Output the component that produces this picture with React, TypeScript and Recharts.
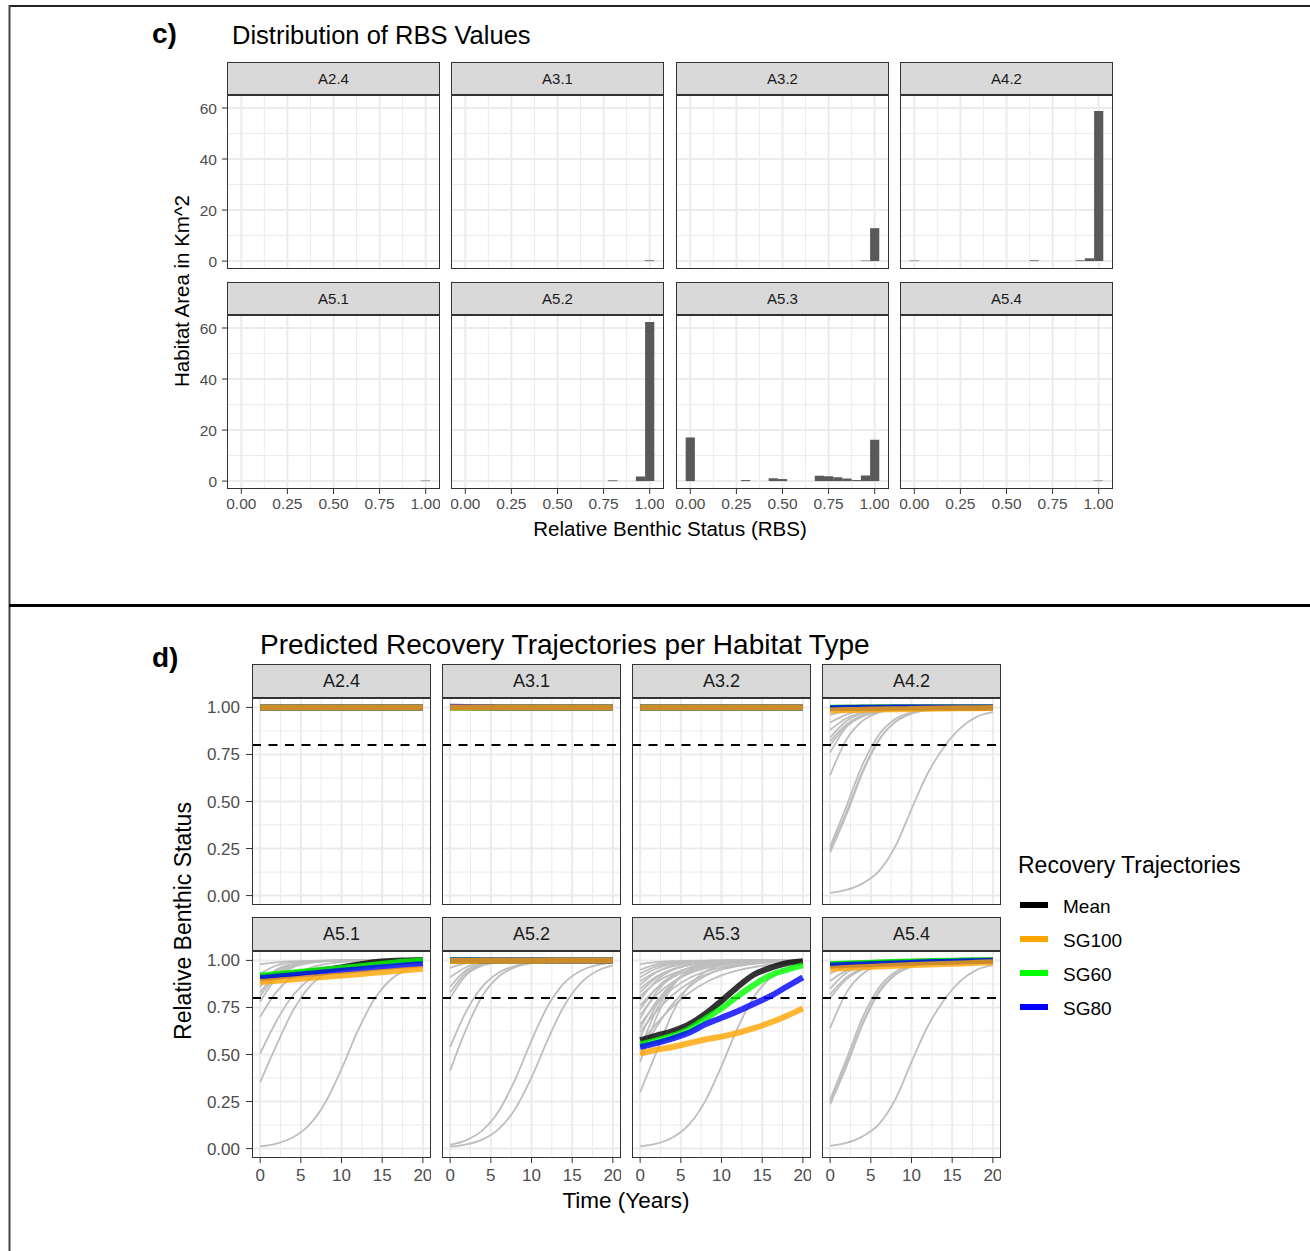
import React from 'react';
import { ComposedChart, LineChart, Line, Bar, XAxis, YAxis, CartesianGrid, ReferenceLine } from 'recharts';

const FONT = '"Liberation Sans", Arial, Helvetica, sans-serif';

// ---------------- c) Distribution of RBS values ----------------
const FACETS = ['A2.4', 'A3.1', 'A3.2', 'A4.2', 'A5.1', 'A5.2', 'A5.3', 'A5.4'];
const RBS_TICKS = [0, 0.25, 0.5, 0.75, 1];
const RBS_MINOR = [0.125, 0.375, 0.625, 0.875];
const AREA_TICKS = [0, 20, 40, 60];
const AREA_MINOR = [10, 30, 50];

const A24_BIN: number[] = [];
const A24_AREA: number[] = [];
const A31_BIN = [1.0];
const A31_AREA = [0.3];
const A32_BIN = [0.95, 1.0];
const A32_AREA = [0.2, 12.9];
const A42_BIN = [0.0, 0.65, 0.9, 0.95, 1.0];
const A42_AREA = [0.2, 0.3, 0.3, 1.1, 58.8];
const A51_BIN = [1.0];
const A51_AREA = [0.2];
const A52_BIN = [0.8, 0.95, 1.0];
const A52_AREA = [0.3, 1.8, 62.4];
const A53_BIN = [0.0, 0.3, 0.45, 0.5, 0.7, 0.75, 0.8, 0.85, 0.9, 0.95, 1.0];
const A53_AREA = [17.1, 0.4, 1.1, 0.8, 2.1, 1.9, 1.5, 1.0, 0.4, 2.2, 16.2];
const A54_BIN = [1.0];
const A54_AREA = [0.2];

const HIST_BINS = [A24_BIN, A31_BIN, A32_BIN, A42_BIN, A51_BIN, A52_BIN, A53_BIN, A54_BIN];
const HIST_AREAS = [A24_AREA, A31_AREA, A32_AREA, A42_AREA, A51_AREA, A52_AREA, A53_AREA, A54_AREA];

// ---------------- d) Predicted recovery trajectories ----------------
const YEARS = [0, 2, 4, 6, 8, 10, 12, 14, 16, 18, 20];
const YEAR_TICKS = [0, 5, 10, 15, 20];
const YEAR_MINOR = [2.5, 7.5, 12.5, 17.5];
const RBS_Y_TICKS = [0, 0.25, 0.5, 0.75, 1];
const RBS_Y_MINOR = [0.125, 0.375, 0.625, 0.875];
const GES_THRESHOLD = 0.8;

const SERIES = ['Mean', 'SG100', 'SG60', 'SG80'];
const SERIES_COLORS: Record<string, string> = { Mean: '#000000', SG100: '#FFA500', SG60: '#00FF00', SG80: '#0000FF' };

// A2.4
const A24_MEAN = [1, 1, 1, 1, 1, 1, 1, 1, 1, 1, 1];
const A24_SG60 = [1, 1, 1, 1, 1, 1, 1, 1, 1, 1, 1];
const A24_SG80 = [1, 1, 1, 1, 1, 1, 1, 1, 1, 1, 1];
const A24_SG100 = [1, 1, 1, 1, 1, 1, 1, 1, 1, 1, 1];
const A24_GREY: number[][] = [];
// A3.1
const A31_MEAN = [1, 1, 1, 1, 1, 1, 1, 1, 1, 1, 1];
const A31_SG60 = [1, 1, 1, 1, 1, 1, 1, 1, 1, 1, 1];
const A31_SG80 = [1.003, 1.002, 1.001, 1, 1, 1, 1, 1, 1, 1, 1];
const A31_SG100 = [0.999, 0.999, 1, 1, 1, 1, 1, 1, 1, 1, 1];
const A31_GREY: number[][] = [];
// A3.2
const A32_MEAN = [1, 1, 1, 1, 1, 1, 1, 1, 1, 1, 1];
const A32_SG60 = [1, 1, 1, 1, 1, 1, 1, 1, 1, 1, 1];
const A32_SG80 = [1, 1, 1, 1, 1, 1, 1, 1, 1, 1, 1];
const A32_SG100 = [0.999, 0.999, 1, 1, 1, 1, 1, 1, 1, 1, 1];
const A32_GREY: number[][] = [];
// A4.2
const A42_MEAN = [0.997, 0.998, 0.998, 0.999, 0.999, 1, 1, 1, 1, 1, 1];
const A42_SG60 = [0.998, 0.998, 0.999, 0.999, 1, 1, 1, 1, 1, 1, 1];
const A42_SG80 = [0.996, 0.997, 0.998, 0.998, 0.999, 0.999, 1, 1, 1, 1, 1];
const A42_SG100 = [0.984, 0.986, 0.987, 0.989, 0.99, 0.991, 0.993, 0.994, 0.995, 0.996, 0.997];
const A42_GREY = [
  [0.80, 0.899, 0.952, 0.978, 0.99, 0.996, 0.998, 0.999, 1, 1, 1],
  [0.82, 0.91, 0.958, 0.981, 0.992, 0.996, 0.998, 0.999, 1, 1, 1],
  [0.84, 0.928, 0.970, 0.987, 0.995, 0.998, 0.999, 1, 1, 1, 1],
  [0.88, 0.942, 0.973, 0.988, 0.995, 0.998, 0.999, 1, 1, 1, 1],
  [0.92, 0.962, 0.983, 0.992, 0.997, 0.999, 1, 1, 1, 1, 1],
  [0.96, 0.982, 0.992, 0.996, 0.998, 0.999, 1, 1, 1, 1, 1],
  [0.64, 0.829, 0.929, 0.973, 0.99, 0.996, 0.998, 0.999, 1, 1, 1],
  [0.76, 0.896, 0.959, 0.985, 0.994, 0.998, 0.999, 1, 1, 1, 1],
  [0.23, 0.43, 0.655, 0.826, 0.923, 0.968, 0.987, 0.995, 0.998, 0.999, 1],
  [0.26, 0.474, 0.697, 0.855, 0.938, 0.975, 0.99, 0.996, 0.998, 0.999, 1],
  [0.245, 0.444, 0.663, 0.829, 0.922, 0.967, 0.986, 0.994, 0.998, 0.999, 1],
  [0.014, 0.03, 0.065, 0.13, 0.26, 0.46, 0.65, 0.79, 0.89, 0.95, 0.975],
];
// A5.1
const A51_MEAN = [0.915, 0.922, 0.93, 0.94, 0.95, 0.963, 0.977, 0.99, 0.997, 1.0, 1.002];
const A51_SG60 = [0.92, 0.928, 0.936, 0.944, 0.952, 0.96, 0.968, 0.977, 0.986, 0.994, 1.0];
const A51_SG80 = [0.905, 0.913, 0.921, 0.929, 0.937, 0.945, 0.952, 0.96, 0.967, 0.974, 0.98];
const A51_SG100 = [0.885, 0.892, 0.899, 0.906, 0.913, 0.92, 0.927, 0.934, 0.941, 0.948, 0.955];
const A51_GREY = [
  [0.78, 0.906, 0.963, 0.986, 0.995, 0.998, 0.999, 1, 1, 1, 1],
  [0.81, 0.92, 0.968, 0.988, 0.996, 0.999, 1, 1, 1, 1, 1],
  [0.83, 0.93, 0.973, 0.99, 0.996, 0.999, 1, 1, 1, 1, 1],
  [0.86, 0.944, 0.978, 0.992, 0.997, 0.999, 1, 1, 1, 1, 1],
  [0.88, 0.952, 0.982, 0.993, 0.998, 1, 1, 1, 1, 1, 1],
  [0.93, 0.973, 0.99, 0.996, 0.999, 1, 1, 1, 1, 1, 1],
  [0.98, 0.99, 0.995, 0.998, 0.999, 1, 1, 1, 1, 1, 1],
  [0.70, 0.833, 0.914, 0.958, 0.98, 0.991, 0.996, 0.998, 0.999, 1, 1],
  [0.505, 0.677, 0.812, 0.898, 0.948, 0.974, 0.987, 0.994, 0.997, 0.998, 0.999],
  [0.353, 0.548, 0.73, 0.857, 0.93, 0.967, 0.985, 0.993, 0.997, 0.999, 1],
  [0.012, 0.027, 0.059, 0.125, 0.244, 0.423, 0.625, 0.791, 0.896, 0.951, 0.978],
];
// A5.2
const A52_MEAN = [1, 1, 1, 1, 1, 1, 1, 1, 1, 1, 1];
const A52_SG60 = [1, 1, 1, 1, 1, 1, 1, 1, 1, 1, 1];
const A52_SG80 = [1, 1, 1, 1, 1, 1, 1, 1, 1, 1, 1];
const A52_SG100 = [0.997, 0.997, 0.998, 0.998, 0.998, 0.998, 0.999, 0.999, 0.999, 0.999, 0.999];
const A52_GREY = [
  [0.80, 0.923, 0.973, 0.991, 0.997, 0.999, 1, 1, 1, 1, 1],
  [0.83, 0.936, 0.978, 0.993, 0.998, 0.999, 1, 1, 1, 1, 1],
  [0.86, 0.949, 0.982, 0.994, 0.998, 1, 1, 1, 1, 1, 1],
  [0.91, 0.965, 0.987, 0.995, 0.998, 1, 1, 1, 1, 1, 1],
  [0.96, 0.985, 0.995, 0.998, 1, 1, 1, 1, 1, 1, 1],
  [0.54, 0.731, 0.863, 0.936, 0.971, 0.987, 0.994, 0.997, 0.999, 1, 1],
  [0.415, 0.638, 0.814, 0.916, 0.964, 0.985, 0.994, 0.997, 0.999, 1, 1],
  [0.02, 0.045, 0.098, 0.201, 0.368, 0.574, 0.758, 0.879, 0.944, 0.975, 0.989],
  [0.01, 0.022, 0.049, 0.105, 0.211, 0.378, 0.579, 0.758, 0.877, 0.942, 0.973],
];
// A5.3
const A53_MEAN = [0.575, 0.6, 0.625, 0.66, 0.715, 0.785, 0.86, 0.925, 0.96, 0.985, 0.995];
const A53_SG60 = [0.555, 0.575, 0.6, 0.635, 0.69, 0.745, 0.81, 0.87, 0.92, 0.95, 0.975];
const A53_SG80 = [0.54, 0.56, 0.585, 0.615, 0.66, 0.695, 0.73, 0.77, 0.81, 0.86, 0.91];
const A53_SG100 = [0.505, 0.525, 0.54, 0.56, 0.58, 0.595, 0.615, 0.64, 0.67, 0.705, 0.745];
const A53_GREY = [
  [0.98, 0.991, 0.996, 0.998, 0.999, 1, 1, 1, 1, 1, 1],
  [0.95, 0.979, 0.991, 0.996, 0.998, 0.999, 1, 1, 1, 1, 1],
  [0.93, 0.968, 0.985, 0.993, 0.997, 0.999, 1, 1, 1, 1, 1],
  [0.91, 0.957, 0.98, 0.991, 0.996, 0.998, 0.999, 1, 1, 1, 1],
  [0.89, 0.94, 0.968, 0.983, 0.991, 0.995, 0.998, 0.999, 1, 1, 1],
  [0.87, 0.937, 0.971, 0.987, 0.994, 0.997, 0.999, 1, 1, 1, 1],
  [0.85, 0.915, 0.953, 0.975, 0.987, 0.993, 0.996, 0.998, 0.999, 1, 1],
  [0.83, 0.908, 0.952, 0.976, 0.988, 0.994, 0.997, 0.999, 1, 1, 1],
  [0.81, 0.884, 0.93, 0.958, 0.975, 0.986, 0.992, 0.995, 0.997, 0.999, 1],
  [0.79, 0.893, 0.949, 0.976, 0.989, 0.995, 0.998, 0.999, 1, 1, 1],
  [0.76, 0.85, 0.91, 0.947, 0.969, 0.982, 0.99, 0.994, 0.997, 0.998, 0.999],
  [0.74, 0.852, 0.921, 0.959, 0.979, 0.99, 0.995, 0.998, 0.999, 1, 1],
  [0.71, 0.815, 0.885, 0.93, 0.958, 0.975, 0.985, 0.991, 0.995, 0.997, 0.998],
  [0.69, 0.832, 0.917, 0.961, 0.982, 0.992, 0.996, 0.998, 0.999, 1, 1],
  [0.66, 0.77, 0.85, 0.905, 0.94, 0.963, 0.977, 0.986, 0.992, 0.995, 0.997],
  [0.64, 0.782, 0.878, 0.936, 0.967, 0.983, 0.992, 0.996, 0.998, 0.999, 1],
  [0.59, 0.762, 0.877, 0.941, 0.972, 0.987, 0.994, 0.997, 0.999, 1, 1],
  [0.53, 0.735, 0.872, 0.944, 0.976, 0.99, 0.996, 0.998, 1, 1, 1],
  [0.46, 0.698, 0.863, 0.945, 0.979, 0.992, 0.997, 0.999, 1, 1, 1],
  [0.62, 0.729, 0.816, 0.88, 0.923, 0.952, 0.97, 0.982, 0.989, 0.993, 0.996],
  [0.50, 0.646, 0.769, 0.858, 0.917, 0.953, 0.973, 0.985, 0.992, 0.995, 0.998],
  [0.56, 0.664, 0.754, 0.827, 0.881, 0.92, 0.947, 0.965, 0.977, 0.985, 0.99],
  [0.30, 0.513, 0.722, 0.864, 0.94, 0.975, 0.99, 0.996, 0.998, 0.999, 1],
  [0.012, 0.026, 0.059, 0.127, 0.252, 0.438, 0.643, 0.807, 0.906, 0.957, 0.981],
];
// A5.4
const A54_MEAN = [0.978, 0.981, 0.984, 0.987, 0.99, 0.992, 0.994, 0.996, 0.998, 0.999, 1.0];
const A54_SG60 = [0.98, 0.983, 0.986, 0.989, 0.992, 0.994, 0.996, 0.998, 0.999, 1.0, 1.001];
const A54_SG80 = [0.972, 0.975, 0.978, 0.981, 0.984, 0.987, 0.99, 0.992, 0.994, 0.996, 0.998];
const A54_SG100 = [0.955, 0.96, 0.964, 0.968, 0.972, 0.975, 0.978, 0.981, 0.984, 0.987, 0.99];
const A54_GREY = [
  [0.80, 0.899, 0.952, 0.978, 0.99, 0.996, 0.998, 0.999, 1, 1, 1],
  [0.82, 0.91, 0.958, 0.981, 0.992, 0.996, 0.998, 0.999, 1, 1, 1],
  [0.85, 0.934, 0.972, 0.988, 0.995, 0.998, 0.999, 1, 1, 1, 1],
  [0.89, 0.947, 0.975, 0.989, 0.995, 0.998, 0.999, 1, 1, 1, 1],
  [0.93, 0.967, 0.985, 0.993, 0.997, 0.999, 1, 1, 1, 1, 1],
  [0.96, 0.982, 0.992, 0.996, 0.998, 0.999, 1, 1, 1, 1, 1],
  [0.64, 0.829, 0.929, 0.973, 0.99, 0.996, 0.998, 0.999, 1, 1, 1],
  [0.235, 0.437, 0.66, 0.828, 0.922, 0.967, 0.986, 0.995, 0.998, 0.999, 1],
  [0.26, 0.474, 0.697, 0.855, 0.938, 0.975, 0.99, 0.996, 0.998, 0.999, 1],
  [0.25, 0.45, 0.67, 0.835, 0.926, 0.969, 0.987, 0.995, 0.998, 0.999, 1],
  [0.014, 0.03, 0.065, 0.13, 0.26, 0.46, 0.65, 0.79, 0.89, 0.95, 0.975],
];

const TRAJ_MEAN = [A24_MEAN, A31_MEAN, A32_MEAN, A42_MEAN, A51_MEAN, A52_MEAN, A53_MEAN, A54_MEAN];
const TRAJ_SG60 = [A24_SG60, A31_SG60, A32_SG60, A42_SG60, A51_SG60, A52_SG60, A53_SG60, A54_SG60];
const TRAJ_SG80 = [A24_SG80, A31_SG80, A32_SG80, A42_SG80, A51_SG80, A52_SG80, A53_SG80, A54_SG80];
const TRAJ_SG100 = [A24_SG100, A31_SG100, A32_SG100, A42_SG100, A51_SG100, A52_SG100, A53_SG100, A54_SG100];
const TRAJ_GREY = [A24_GREY, A31_GREY, A32_GREY, A42_GREY, A51_GREY, A52_GREY, A53_GREY, A54_GREY];

// ---------------- layout ----------------
const C_X = [227, 451, 676, 900];
const C_W = 213;
const C_STRIP_Y = [62, 282];
const C_STRIP_H = 33;
const C_PANEL_Y = [95, 315];
const C_PANEL_H = 174;

const D_X = [252, 442, 632, 822];
const D_W = 179;
const D_STRIP_Y = [664, 917];
const D_STRIP_H = 34;
const D_PANEL_Y = [698, 951];
const D_PANEL_H = 207;

const GRID = '#EBEBEB';
const AXIS_COL = '#333333';
const TICK_TXT = '#4D4D4D';

function Strip({ x, y, w, h, label, fontSize }: any) {
  return (
    <div
      style={{
        position: 'absolute', left: x, top: y, width: w, height: h, boxSizing: 'border-box',
        background: '#D9D9D9', border: `1px solid ${AXIS_COL}`, display: 'flex', alignItems: 'center',
        justifyContent: 'center', fontSize, color: '#1A1A1A', fontFamily: FONT,
      }}
    >
      {label}
    </div>
  );
}

function PanelBorder({ x, y, w, h }: any) {
  return (
    <div
      style={{
        position: 'absolute', left: x, top: y, width: w, height: h, boxSizing: 'border-box',
        border: `1px solid ${AXIS_COL}`, pointerEvents: 'none',
      }}
    />
  );
}

function HistFacet({ idx }: { idx: number }) {
  const col = idx % 4;
  const row = Math.floor(idx / 4);
  const showY = col === 0;
  const showX = row === 1;
  const WY = 50;
  const HX = 34;
  const data = HIST_BINS[idx].map((b, i) => ({ rbs: b, area: HIST_AREAS[idx][i] }));
  const px = C_X[col];
  const py = C_PANEL_Y[row];
  const cw = C_W + (showY ? WY : 0);
  const ch = C_PANEL_H + (showX ? HX : 0);
  const tickStyle = { fontSize: 15.5, fill: TICK_TXT, fontFamily: FONT };
  return (
    <>
      <Strip x={px} y={C_STRIP_Y[row]} w={C_W} h={C_STRIP_H} label={FACETS[idx]} fontSize={15} />
      <div style={{ position: 'absolute', left: px - (showY ? WY : 0), top: py }}>
        <ComposedChart width={cw} height={ch} data={data} margin={{ top: 0, right: 0, bottom: 0, left: 0 }}>
          <CartesianGrid stroke={GRID} strokeWidth={1} horizontalValues={AREA_MINOR} verticalValues={RBS_MINOR} />
          <CartesianGrid stroke={GRID} strokeWidth={2} horizontalValues={AREA_TICKS} verticalValues={RBS_TICKS} />
          <XAxis
            type="number" dataKey="rbs" domain={[-0.0775, 1.0775]} allowDataOverflow ticks={RBS_TICKS} interval={0}
            hide={!showX} height={HX} axisLine={false} stroke={AXIS_COL} tickSize={5} tickMargin={4}
            tick={tickStyle} tickFormatter={(v: number) => v.toFixed(2)}
          />
          <YAxis
            type="number" domain={[-3.1, 65.1]} allowDataOverflow ticks={AREA_TICKS} interval={0}
            hide={!showY} width={WY} axisLine={false} stroke={AXIS_COL} tickSize={5} tickMargin={5}
            tick={tickStyle}
          />
          <Bar dataKey="area" fill="#595959" barSize={9.2} isAnimationActive={false} />
        </ComposedChart>
      </div>
      <PanelBorder x={px} y={py} w={C_W} h={C_PANEL_H} />
    </>
  );
}

function TrajFacet({ idx }: { idx: number }) {
  const col = idx % 4;
  const row = Math.floor(idx / 4);
  const showY = col === 0;
  const showX = row === 1;
  const WY = 60;
  const HX = 36;
  const grey = TRAJ_GREY[idx];
  const data = YEARS.map((t, i) => {
    const r: Record<string, number> = {
      t,
      mean: TRAJ_MEAN[idx][i],
      sg60: TRAJ_SG60[idx][i],
      sg80: TRAJ_SG80[idx][i],
      sg100: TRAJ_SG100[idx][i],
    };
    grey.forEach((g, j) => {
      r['g' + j] = g[i];
    });
    return r;
  });
  const px = D_X[col];
  const py = D_PANEL_Y[row];
  const cw = D_W + (showY ? WY : 0);
  const ch = D_PANEL_H + (showX ? HX : 0);
  const tickStyle = { fontSize: 17, fill: TICK_TXT, fontFamily: FONT };
  const colored = { type: 'monotone' as const, strokeOpacity: 0.8, strokeWidth: 6, dot: false, activeDot: false, isAnimationActive: false };
  return (
    <>
      <Strip x={px} y={D_STRIP_Y[row]} w={D_W} h={D_STRIP_H} label={FACETS[idx]} fontSize={18} />
      <div style={{ position: 'absolute', left: px - (showY ? WY : 0), top: py }}>
        <LineChart width={cw} height={ch} data={data} margin={{ top: 0, right: 0, bottom: 0, left: 0 }}>
          <CartesianGrid stroke={GRID} strokeWidth={1} horizontalValues={RBS_Y_MINOR} verticalValues={YEAR_MINOR} />
          <CartesianGrid stroke={GRID} strokeWidth={2} horizontalValues={RBS_Y_TICKS} verticalValues={YEAR_TICKS} />
          <XAxis
            type="number" dataKey="t" domain={[-1, 21]} allowDataOverflow ticks={YEAR_TICKS} interval={0}
            hide={!showX} height={HX} axisLine={false} stroke={AXIS_COL} tickSize={5} tickMargin={6}
            tick={tickStyle}
          />
          <YAxis
            type="number" domain={[-0.05, 1.05]} allowDataOverflow ticks={RBS_Y_TICKS} interval={0}
            hide={!showY} width={WY} axisLine={false} stroke={AXIS_COL} tickSize={6} tickMargin={6}
            tick={tickStyle} tickFormatter={(v: number) => v.toFixed(2)}
          />
          {grey.map((_, j) => (
            <Line
              key={'g' + j} dataKey={'g' + j} type="monotone" stroke="#BEBEBE" strokeWidth={1.8}
              dot={false} activeDot={false} isAnimationActive={false}
            />
          ))}
          <ReferenceLine y={GES_THRESHOLD} stroke="#000" strokeWidth={2} strokeDasharray="9 7.5" />
          <Line dataKey="mean" stroke={SERIES_COLORS.Mean} {...colored} />
          <Line dataKey="sg60" stroke={SERIES_COLORS.SG60} {...colored} />
          <Line dataKey="sg80" stroke={SERIES_COLORS.SG80} {...colored} />
          <Line dataKey="sg100" stroke={SERIES_COLORS.SG100} {...colored} />
        </LineChart>
      </div>
      <PanelBorder x={px} y={py} w={D_W} h={D_PANEL_H} />
    </>
  );
}

const LEGEND_Y = [905, 939, 973, 1007];

export default function App() {
  return (
    <div
      style={{
        position: 'absolute', left: 0, top: 0, width: 1310, height: 1251, background: '#fff',
        overflow: 'hidden', fontFamily: FONT,
      }}
    >
      <svg width={1310} height={1251} style={{ position: 'absolute', left: 0, top: 0 }} fontFamily={FONT}>
        <line x1={9} y1={6} x2={1310} y2={6} stroke="#222" strokeWidth={2} />
        <line x1={9.5} y1={5} x2={9.5} y2={1251} stroke="#444" strokeWidth={2} />
        <line x1={9} y1={605.5} x2={1310} y2={605.5} stroke="#000" strokeWidth={3} />

        <text x={152} y={43} fontSize={28} fontWeight="bold" fill="#000">c)</text>
        <text x={232} y={44} fontSize={25.5} fill="#000">Distribution of RBS Values</text>
        <text x={670} y={536} fontSize={20.5} textAnchor="middle" fill="#000">Relative Benthic Status (RBS)</text>
        <text transform="translate(189,291) rotate(-90)" fontSize={20.5} textAnchor="middle" fill="#000">
          Habitat Area in Km^2
        </text>

        <text x={152} y={667} fontSize={28} fontWeight="bold" fill="#000">d)</text>
        <text x={260} y={654} fontSize={28} fill="#000">Predicted Recovery Trajectories per Habitat Type</text>
        <text x={626} y={1208} fontSize={22.5} textAnchor="middle" fill="#000">Time (Years)</text>
        <text transform="translate(191,921) rotate(-90)" fontSize={23} textAnchor="middle" fill="#000">
          Relative Benthic Status
        </text>

        <text x={1018} y={873} fontSize={23} fill="#000">Recovery Trajectories</text>
        {SERIES.map((s, i) => (
          <g key={s}>
            <line x1={1020} x2={1048} y1={LEGEND_Y[i]} y2={LEGEND_Y[i]} stroke={SERIES_COLORS[s]} strokeWidth={6} />
            <text x={1063} y={LEGEND_Y[i] + 7.5} fontSize={19} fill="#000">{s}</text>
          </g>
        ))}
      </svg>

      {FACETS.map((_, i) => (
        <HistFacet key={'h' + i} idx={i} />
      ))}
      {FACETS.map((_, i) => (
        <TrajFacet key={'t' + i} idx={i} />
      ))}
    </div>
  );
}
